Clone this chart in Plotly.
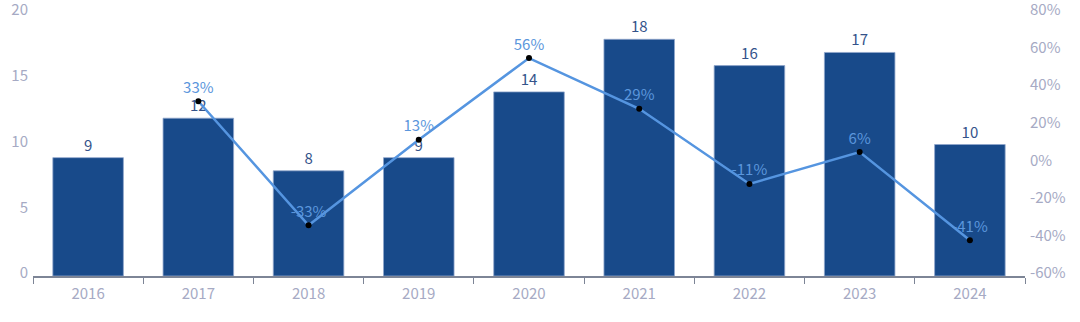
import plotly.graph_objects as go

years = ["2016", "2017", "2018", "2019", "2020", "2021", "2022", "2023", "2024"]
bar_values = [9, 12, 8, 9, 14, 18, 16, 17, 10]
growth_years = ["2017", "2018", "2019", "2020", "2021", "2022", "2023", "2024"]
growth_values = [33, -33, 12.5, 56, 29, -11, 6, -41]
growth_labels = ["33%", "-33%", "13%", "56%", "29%", "-11%", "6%", "-41%"]
left_ticks = [0, 5, 10, 15, 20]
right_ticks = [-60, -40, -20, 0, 20, 40, 60, 80]
right_tick_labels = ["-60%", "-40%", "-20%", "0%", "20%", "40%", "60%", "80%"]

FONT = "Noto Sans CJK SC"
TICK_COLOR = "#a6aac4"

fig = go.Figure()
fig.add_trace(go.Bar(
    x=years, y=bar_values,
    text=[str(v) for v in bar_values], textposition="outside",
    textfont=dict(color="#34538a", size=15, family=FONT),
    marker=dict(color="#184a8a", line=dict(color="#8fa6cc", width=0.8)),
    width=0.64, cliponaxis=False, yaxis="y",
))
fig.add_trace(go.Scatter(
    x=growth_years, y=growth_values, yaxis="y2",
    mode="lines+markers+text",
    text=growth_labels, textposition="top center",
    textfont=dict(color="#5b96dc", size=15, family=FONT),
    line=dict(color="#5595e0", width=2.5),
    marker=dict(color="black", size=6),
    cliponaxis=False,
))

fig.update_layout(
    width=1080, height=322,
    margin=dict(l=33, r=55, t=13, b=46),
    plot_bgcolor="white", paper_bgcolor="white",
    showlegend=False,
    bargap=0.36,
    font=dict(family=FONT),
    xaxis=dict(
        type="category", showgrid=False, showline=True, linecolor="#7d8596", linewidth=1.5,
        ticks="outside", tickson="boundaries", ticklen=6, tickcolor="#7d8596",
        tickfont=dict(color=TICK_COLOR, size=15, family=FONT), automargin=False,
        ticklabelstandoff=3,
    ),
    yaxis=dict(
        range=[0, 20], tickvals=left_ticks, showgrid=False, zeroline=False,
        showline=False, tickfont=dict(color=TICK_COLOR, size=15, family=FONT),
        ticklabelstandoff=4, ticklabelshift=-3, automargin=False,
        ticklabeloverflow="allow",
    ),
    yaxis2=dict(
        range=[-60, 80], tickvals=right_ticks, ticktext=right_tick_labels,
        overlaying="y", side="right", showgrid=False, zeroline=False, showline=False,
        tickfont=dict(color=TICK_COLOR, size=15, family=FONT),
        ticklabelstandoff=4, ticklabelshift=-3, automargin=False,
        ticklabeloverflow="allow",
    ),
)

fig.write_html("out.html")
